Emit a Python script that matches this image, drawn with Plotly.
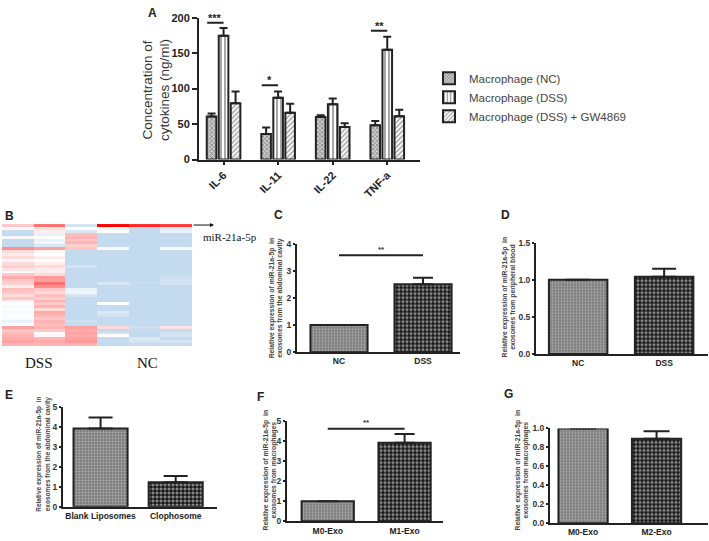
import plotly.graph_objects as go

W, H = 709, 541

# ---------------- data ----------------
# Panel A
cytokines = ["IL-6", "IL-11", "IL-22", "TNF-a"]
a_nc = [60.5, 36, 60, 48.5]
a_nc_err = [4.5, 9, 2.3, 6]
a_dss = [174.5, 87, 77.8, 154.8]
a_dss_err = [11, 8.8, 8.3, 18.4]
a_gw = [79.5, 66, 46, 61]
a_gw_err = [16.6, 12.8, 5, 9.3]
a_sig_idx = [0, 1, 3]
a_sig_h = [193, 104.6, 181.5]
a_sig_txt = ["***", "*", "**"]
a_names = ["Macrophage (NC)", "Macrophage (DSS)", "Macrophage (DSS) + GW4869"]

# Panel B heatmap (rows top->bottom; cols DSS1..3, NC1..3)
hm = [
    [0.3, 0.7, -0.6, 1.0, 0.9, 0.85],
    [0.05, 0.15, 0.0, -0.2, -0.8, -0.5],
    [-0.8, 0.1, -0.5, 0.0, -0.8, -0.3],
    [-0.8, -0.3, 0.35, -0.8, -0.8, -0.8],
    [-0.1, 0.0, 0.4, -0.8, -0.8, -0.8],
    [-0.8, -0.3, 0.3, -0.8, -0.8, -0.8],
    [-0.8, -0.2, 0.4, -0.8, -0.8, -0.8],
    [-0.8, -0.5, 0.25, -0.8, -0.8, -0.8],
    [0.6, 0.5, 0.3, -0.1, -0.8, -0.1],
    [0.2, 0.05, -0.8, -0.8, -0.8, -0.8],
    [0.1, 0.0, -0.8, -0.8, -0.8, -0.8],
    [0.2, 0.1, -0.8, -0.8, -0.8, -0.8],
    [0.05, 0.0, -0.8, -0.8, -0.8, -0.8],
    [0.2, 0.1, -0.8, -0.8, -0.8, -0.8],
    [0.25, 0.2, -0.6, -0.8, -0.8, -0.8],
    [0.15, 0.1, -0.8, -0.8, -0.8, -0.8],
    [0.0, 0.1, -0.8, -0.8, -0.8, -0.8],
    [0.3, 0.2, -0.8, -0.8, -0.8, -0.8],
    [0.45, 0.55, -0.8, -0.8, -0.8, -0.7],
    [0.3, 0.5, -0.8, -0.8, -0.8, -0.6],
    [0.25, 0.7, -0.8, -0.5, -0.75, -0.6],
    [0.1, 0.6, -0.8, -0.8, -0.8, -0.8],
    [0.35, 0.3, -0.3, -0.8, -0.8, -0.8],
    [0.3, 0.2, -0.2, -0.8, -0.8, -0.8],
    [0.2, 0.35, -0.6, -0.8, -0.8, -0.8],
    [0.3, 0.25, -0.8, -0.8, -0.8, -0.8],
    [0.1, 0.4, -0.8, -0.8, -0.8, -0.8],
    [-0.05, 0.3, -0.8, 0.0, -0.8, -0.8],
    [-0.1, 0.4, -0.8, -0.8, -0.8, -0.8],
    [-0.05, 0.2, -0.8, -0.8, -0.8, -0.8],
    [-0.1, 0.45, -0.8, -0.5, -0.8, -0.8],
    [-0.05, 0.4, -0.8, -0.6, -0.8, -0.8],
    [-0.1, 0.3, -0.8, -0.8, -0.8, -0.8],
    [-0.3, 0.4, -0.7, -0.8, -0.8, -0.8],
    [-0.05, 0.35, -0.8, -0.8, -0.8, -0.8],
    [0.5, 0.4, 0.5, 0.2, -0.7, 0.15],
    [0.3, 0.3, 0.45, -0.8, -0.8, -0.8],
    [0.35, 0.0, 0.5, -0.6, -0.8, -0.6],
    [0.4, 0.05, 0.45, 0.0, -0.8, -0.6],
    [0.45, 0.4, 0.5, -0.8, -0.5, -0.8],
    [0.5, 0.45, 0.55, -0.8, -0.6, -0.6],
    [0.4, 0.4, 0.4, -0.8, -0.8, -0.8],
]
hm_groups = ["DSS", "NC"]
hm_label = "miR-21a-5p"

# Panels C-G
c_cats = ["NC", "DSS"]; c_vals = [1.0, 2.5]; c_err = [0, 0.24]; c_sig = 3.57
d_cats = ["NC", "DSS"]; d_vals = [1.0, 1.04]; d_err = [0, 0.11]
e_cats = ["Blank Liposomes", "Clophosome"]; e_vals = [3.92, 1.22]; e_err = [0.55, 0.32]; e_sig = 5.25
f_cats = ["M0-Exo", "M1-Exo"]; f_vals = [1.0, 3.9]; f_err = [0, 0.43]; f_sig = 4.6
g_cats = ["M0-Exo", "M2-Exo"]; g_vals = [1.0, 0.89]; g_err = [0, 0.08]

# ---------------- helpers ----------------
FONT = "Arial, Liberation Sans, sans-serif"
SERIF = "Liberation Serif, DejaVu Serif, serif"
INK = "#222"

def dx(a, b):
    return [a / W, b / W]

def dy(top, bottom):
    return [1 - bottom / H, 1 - top / H]

fig = go.Figure()

# ---------- Panel A ----------
a_styles = [
    dict(shape="x", size=3, solidity=0.45, fgcolor="#333", bgcolor="#cfcfcf"),
    dict(shape="|", size=4, solidity=0.4, fgcolor="#222", bgcolor="white"),
    dict(shape="/", size=3.5, solidity=0.4, fgcolor="#333", bgcolor="white"),
]
for name, vals, errs, pat in zip(a_names, [a_nc, a_dss, a_gw], [a_nc_err, a_dss_err, a_gw_err], a_styles):
    fig.add_trace(go.Bar(
        x=list(range(len(cytokines))), y=vals, name=name,
        marker=dict(color="white", line=dict(color=INK, width=2), pattern=pat),
        error_y=dict(type="data", array=errs, arrayminus=[0] * len(errs), symmetric=False,
                     thickness=2, width=4, color=INK),
        xaxis="x", yaxis="y",
    ))
for i, h, t in zip(a_sig_idx, a_sig_h, a_sig_txt):
    fig.add_trace(go.Scatter(x=[i - 0.3, i], y=[h, h], mode="lines", line=dict(color=INK, width=2),
                             showlegend=False, cliponaxis=False, xaxis="x", yaxis="y", hoverinfo="skip"))
    fig.add_annotation(x=i - 0.15, y=h, xref="x", yref="y", text="<b>%s</b>" % t, showarrow=False,
                       yshift=5, font=dict(family=FONT, size=11, color=INK))

# ---------- Panel B ----------
fig.add_trace(go.Heatmap(
    z=hm, xaxis="x2", yaxis="y2", showscale=False, zmin=-0.8, zmax=1.0,
    colorscale=[[0, "rgb(196,218,238)"], [0.8 / 1.8, "rgb(255,255,255)"],
                [0.8, "rgb(255,135,135)"], [1, "rgb(255,0,0)"]],
    hoverinfo="skip",
))

# ---------- Panels C-G ----------
panels = [
    ("3", c_cats, c_vals, c_err, c_sig, 0.68, 10),
    ("4", d_cats, d_vals, d_err, None, 0.68, 12),
    ("5", e_cats, e_vals, e_err, e_sig, 0.72, 12),
    ("6", f_cats, f_vals, f_err, f_sig, 0.68, 10),
    ("7", g_cats, g_vals, g_err, None, 0.67, 13),
]
for ax, cats, vals, errs, sig, bw, cap in panels:
    xa, ya = "x" + ax, "y" + ax
    fig.add_trace(go.Bar(
        x=[0, 1], y=vals, width=bw, showlegend=False,
        marker=dict(color="white", line=dict(color=INK, width=2),
                    pattern=dict(shape=[".", "."], size=[3, 4], solidity=[0.5, 0.5],
                                 fgcolor=["#dedede", "white"], bgcolor=["#707070", "#151515"])),
        error_y=dict(type="data", array=errs, arrayminus=[0, 0], symmetric=False,
                     thickness=2, width=cap, color=INK),
        xaxis=xa, yaxis=ya,
    ))
    if sig is not None:
        fig.add_trace(go.Scatter(x=[0, 1], y=[sig, sig], mode="lines", line=dict(color=INK, width=2),
                                 showlegend=False, cliponaxis=False, xaxis=xa, yaxis=ya, hoverinfo="skip"))
        fig.add_annotation(x=0.5, y=sig, xref=xa, yref=ya, text="<b>**</b>", showarrow=False,
                           yshift=6, font=dict(family=FONT, size=8, color="#333"))

# ---------------- layout ----------------
def xax(domain, rng, tickvals, ticktext, size, angle=0, anchor="y", ticks=""):
    return dict(domain=domain, range=rng, tickvals=tickvals, ticktext=ticktext, tickangle=angle,
                showline=True, linecolor=INK, linewidth=2, ticks=ticks, ticklen=3, tickwidth=1.5,
                tickcolor=INK, showgrid=False, zeroline=False, anchor=anchor,
                tickfont=dict(family=FONT, size=size, color=INK, weight="bold"))

def yax(domain, rng, tickvals, ticktext, size, anchor):
    return dict(domain=domain, range=rng, tickvals=tickvals, ticktext=ticktext,
                showline=True, linecolor=INK, linewidth=2, ticks="outside", ticklen=2, tickwidth=1.5,
                tickcolor=INK, showgrid=False, zeroline=False, anchor=anchor,
                tickfont=dict(family=FONT, size=size, color="#333", weight="bold"))

layout = dict(
    width=W, height=H, margin=dict(l=0, r=0, t=0, b=0),
    paper_bgcolor="white", plot_bgcolor="white",
    barmode="group", bargap=0.34, bargroupgap=0.2,
    font=dict(family=FONT, color=INK),
    legend=dict(x=429 / W, y=1 - 59 / H, xanchor="left", yanchor="top", bgcolor="rgba(0,0,0,0)",
                font=dict(family=FONT, size=11.5, color="#444"), traceorder="normal",
                itemwidth=30, tracegroupgap=0),
)
layout["xaxis"] = xax(dx(199, 420), [-0.45, 3.6], [0, 1, 2, 3], cytokines, 11, angle=-45, anchor="y",
                      ticks="outside")
layout["yaxis"] = yax(dy(12, 157), [0, 200], [0, 50, 100, 150, 200], ["0", "50", "100", "150", "200"], 11, "x")
layout["yaxis"]["tickfont"]["color"] = INK
layout["yaxis"]["ticklen"] = 5

layout["xaxis2"] = dict(domain=dx(2, 192), range=[-0.5, 5.5], visible=False, anchor="y2")
layout["yaxis2"] = dict(domain=dy(223, 348), autorange="reversed", visible=False, anchor="x2")

layout["xaxis3"] = xax(dx(297, 460), [-0.5, 1.44], [0, 1], c_cats, 8.5, anchor="y3")
layout["yaxis3"] = yax(dy(243, 354), [0, 4], [0, 1, 2, 3, 4], ["0", "1", "2", "3", "4"], 8.5, "x3")
layout["xaxis4"] = xax(dx(536, 708), [-0.49, 1.51], [0, 1], d_cats, 8.5, anchor="y4")
layout["yaxis4"] = yax(dy(242, 356), [0, 1.5], [0, 0.5, 1.0, 1.5], ["0.0", "0.5", "1.0", "1.5"], 8.5, "x4")
layout["xaxis5"] = xax(dx(63, 217), [-0.5, 1.55], [0, 1], e_cats, 8.5, anchor="y5")
layout["yaxis5"] = yax(dy(410, 512), [0, 5], [0, 1, 2, 3, 4, 5], ["0", "1", "2", "3", "4", "5"], 8.5, "x5")
layout["xaxis6"] = xax(dx(287, 443), [-0.53, 1.5], [0, 1], f_cats, 8.5, anchor="y6")
layout["yaxis6"] = yax(dy(424, 527), [0, 5], [0, 1, 2, 3, 4, 5], ["0", "1", "2", "3", "4", "5"], 8.5, "x6")
layout["xaxis7"] = xax(dx(550, 708), [-0.45, 1.7], [0, 1], g_cats, 8.5, anchor="y7")
layout["yaxis7"] = yax(dy(432, 529), [0, 1], [0, 0.2, 0.4, 0.6, 0.8, 1.0],
                       ["0.0", "0.2", "0.4", "0.6", "0.8", "1.0"], 8.5, "x7")

fig.update_layout(**layout)

# ---------------- text annotations ----------------
def ptext(x, y, text, size, family=FONT, color=INK, angle=0, xanchor="center", bold=False):
    fig.add_annotation(x=x / W, y=1 - y / H, xref="paper", yref="paper", text=text, showarrow=False,
                       textangle=angle, xanchor=xanchor, yanchor="middle",
                       font=dict(family=family, size=size, color=color, weight="bold" if bold else "normal"))

# panel letters
for letter, px, py in [("A", 152, 7), ("B", 9, 215), ("C", 278, 214), ("D", 505, 214),
                       ("E", 9, 398), ("F", 260, 400), ("G", 508, 397)]:
    ptext(px, py, letter, 12, bold=True)

# y titles
ptext(156, 86, "Concentration of<br>cytokines (ng/ml)", 13.5, color="#333", angle=-90)
ptext(276, 299, "Relative expression of miR-21a-5p  in<br>exosomes from the abdominal cavity", 6.8,
      color="#444", angle=-90, bold=True)
ptext(509, 298, "Relative expression of miR-21a-5p  in<br>exosomes from peripheral blood", 6.8,
      color="#444", angle=-90, bold=True)
ptext(43, 459, "Relative expression of miR-21a-5p  in<br>exosomes from the abdominal cavity", 6.5,
      color="#444", angle=-90, bold=True)
ptext(270, 475, "Relative expression of miR-21a-5p  in<br>exosomes from macrophages", 6.8,
      color="#444", angle=-90, bold=True)
ptext(522, 475, "Relative expression of miR-21a-5p  in<br>exosomes from macrophages", 6.8,
      color="#444", angle=-90, bold=True)

# heatmap labels
ptext(39, 365, hm_groups[0], 15, family=SERIF, color="#111")
ptext(147, 365, hm_groups[1], 15, family=SERIF, color="#111")
ptext(201, 236, hm_label, 11, family=SERIF, color="#111", xanchor="left")
fig.add_annotation(x=214 / W, y=1 - 224 / H, xref="paper", yref="paper", ax=-22, ay=0,
                   axref="pixel", ayref="pixel", text="", showarrow=True, arrowhead=2,
                   arrowsize=0.8, arrowwidth=1, arrowcolor="#111")

fig.write_html("out.html", config={"displayModeBar": False},
               post_script="document.body.style.margin='0px';document.body.style.overflow='hidden';")
